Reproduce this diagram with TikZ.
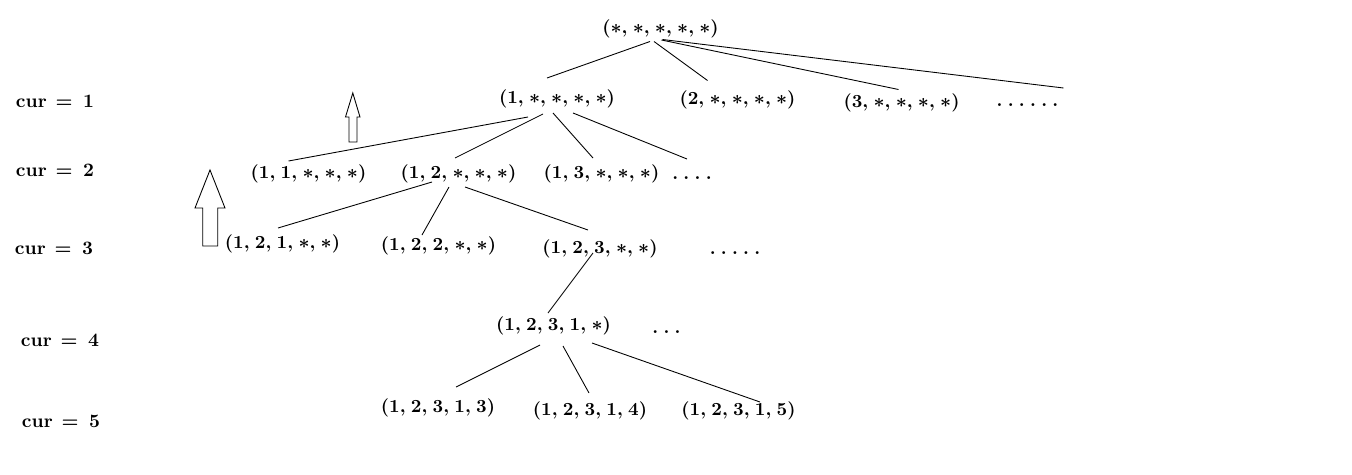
\documentclass[tikz,border=0pt]{standalone}
\usepackage{tikz}
\usetikzlibrary{calc}

\newcommand{\tuplefont}{\fontsize{10.5}{12}\selectfont\bfseries\boldmath\frenchspacing\spaceskip 3pt\relax}
\newcommand{\curfont}{\fontsize{10.8}{12}\selectfont\bfseries}

\begin{document}
\begin{tikzpicture}[x=0.02cm, y=-0.02cm]
  \useasboundingbox (0,0) rectangle (1352,474);

  % ---- Styles --------------------------------------------------
  \tikzstyle{tuple}=[inner sep=0pt, font=\tuplefont]
  \tikzstyle{more}=[tuple, anchor=base]
  \tikzstyle{cur}=[inner sep=0pt, font=\curfont]
  \tikzstyle{branch}=[line width=0.5pt]
  \tikzstyle{uparrow}=[line width=0.5pt, fill=white]

  % ---- Level labels --------------------------------------------
  \node[cur] (cur1) at (55, 101)   {cur\hspace{5pt}=\hspace{6pt}1};
  \node[cur] (cur2) at (55, 170)   {cur\hspace{5pt}=\hspace{6pt}2};
  \node[cur] (cur3) at (54, 248.5) {cur\hspace{5pt}=\hspace{6pt}3};
  \node[cur] (cur4) at (60, 340)   {cur\hspace{5pt}=\hspace{6pt}4};
  \node[cur] (cur5) at (61, 421.5) {cur\hspace{5pt}=\hspace{6pt}5};

  % ---- Tree nodes ----------------------------------------------
  \node[tuple] (root) at (660.5, 28.5) {($\ast$, $\ast$, $\ast$, $\ast$, $\ast$)};

  \node[tuple] (t1)  at (557, 99)      {(1, $\ast$, $\ast$, $\ast$, $\ast$)};
  \node[tuple] (t2)  at (737.5, 99.5)  {(2, $\ast$, $\ast$, $\ast$, $\ast$)};
  \node[tuple] (t3)  at (901.5, 102.5) {(3, $\ast$, $\ast$, $\ast$, $\ast$)};
  \node[more]  (dots1) at (1027.5, 106) {. . . . . .};

  \node[tuple] (t11) at (308.5, 174)   {(1, 1, $\ast$, $\ast$, $\ast$)};
  \node[tuple] (t12) at (458.5, 174)   {(1, 2, $\ast$, $\ast$, $\ast$)};
  \node[tuple] (t13) at (601.5, 173.5) {(1, 3, $\ast$, $\ast$, $\ast$)};
  \node[more]  (dots2) at (692, 179)   {. . . .};

  \node[tuple] (t121) at (282.5, 243.5) {(1, 2, 1, $\ast$, $\ast$)};
  \node[tuple] (t122) at (438.5, 245.5) {(1, 2, 2, $\ast$, $\ast$)};
  \node[tuple] (t123) at (600, 249)     {(1, 2, 3, $\ast$, $\ast$)};
  \node[more]  (dots3) at (735, 254)    {. . . . .};

  \node[tuple] (t1231) at (553.5, 326) {(1, 2, 3, 1, $\ast$)};
  \node[more]  (dots4) at (666.5, 333) {. . .};

  \node[tuple] (t12313) at (438, 408)     {(1, 2, 3, 1, 3)};
  \node[tuple] (t12314) at (590, 411)     {(1, 2, 3, 1, 4)};
  \node[tuple] (t12315) at (738.5, 410.5) {(1, 2, 3, 1, 5)};

  % ---- Branches ------------------------------------------------
  \draw[branch] ($(root)+(-10.5,13)$) -- ($(t1)+(-10,-21)$);
  \draw[branch] ($(root)+(-6.5,13)$)  -- ($(t2)+(-30,-19)$);
  \draw[branch] ($(root)+(1,11.5)$)   -- ($(t3)+(-3,-13)$);
  \draw[branch] ($(root)+(2,11)$)     -- ($(dots1.base)+(36,-18)$);

  \draw[branch] ($(t1)+(-29,18)$) -- ($(t11)+(-20,-13)$);
  \draw[branch] ($(t1)+(-14,15)$) -- ($(t12)+(-3.5,-16)$);
  \draw[branch] ($(t1)+(-4,14)$)  -- ($(t13)+(-8.5,-15.5)$);
  \draw[branch] ($(t1)+(16,14)$)  -- ($(dots2.base)+(-5,-20)$);

  \draw[branch] ($(t12)+(-26.5,8)$) -- ($(t121)+(-4.5,-15.5)$);
  \draw[branch] ($(t12)+(-9.5,13)$) -- ($(t122)+(-16.5,-10.5)$);
  \draw[branch] ($(t12)+(6.5,13)$)  -- ($(t123)+(-12,-19)$);

  \draw[branch] ($(t123)+(-7,4)$) -- ($(t1231)+(-5.5,-13)$);

  \draw[branch] ($(t1231)+(-13.5,19)$) -- ($(t12313)+(18,-21)$);
  \draw[branch] ($(t1231)+(9.5,20)$)   -- ($(t12314)+(-1,-18)$);
  \draw[branch] ($(t1231)+(38.5,17)$)  -- ($(t12315)+(21.5,-8.5)$);

  % ---- Upward arrows -------------------------------------------
  \draw[uparrow] (349,142) -- (349,117) -- (345.5,117) -- (352.8,93)
    -- (360,117) -- (357,117) -- (357,142) -- cycle;
  \draw[uparrow] (202.7,246) -- (202.7,208) -- (195,208) -- (210,170)
    -- (225,208) -- (217.7,208) -- (217.7,246) -- cycle;

\end{tikzpicture}
\end{document}
